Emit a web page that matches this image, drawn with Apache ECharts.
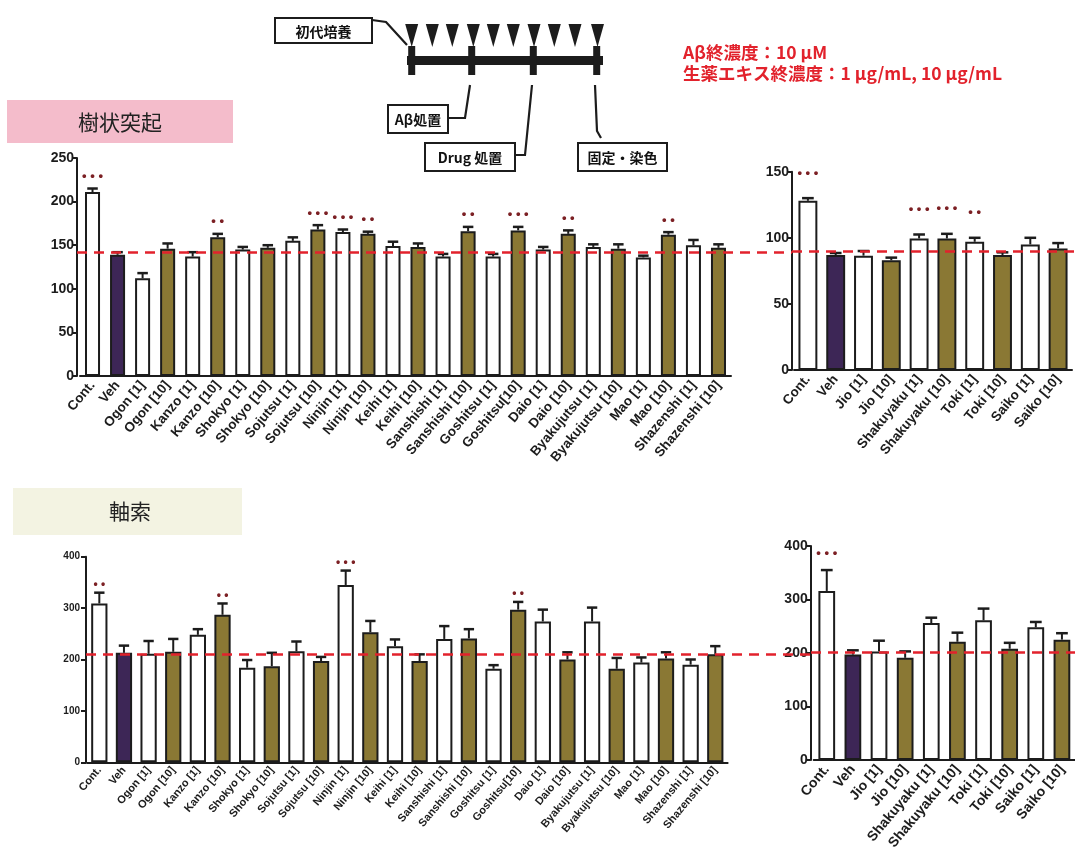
<!DOCTYPE html>
<html>
<head>
<meta charset="utf-8">
<script src="https://cdn.jsdelivr.net/npm/echarts@6/dist/echarts.min.js"></script>
<style>
  html, body { margin: 0; padding: 0; background: #fff; }
  #main { width: 1075px; height: 863px; }
</style>
</head>
<body>
<div id="main"></div>
<script>
// ---- Categories ----
const herbCats = ['Cont.', 'Veh', 'Ogon [1]', 'Ogon [10]', 'Kanzo [1]', 'Kanzo [10]',
  'Shokyo [1]', 'Shokyo [10]', 'Sojutsu [1]', 'Sojutsu [10]', 'Ninjin [1]', 'Ninjin [10]',
  'Keihi [1]', 'Keihi [10]', 'Sanshishi [1]', 'Sanshishi [10]', 'Goshitsu [1]', 'Goshitsu[10]',
  'Daio [1]', 'Daio [10]', 'Byakujutsu [1]', 'Byakujutsu [10]', 'Mao [1]', 'Mao [10]',
  'Shazenshi [1]', 'Shazenshi [10]'];
const extraCats = ['Cont.', 'Veh', 'Jio [1]', 'Jio [10]', 'Shakuyaku [1]', 'Shakuyaku [10]',
  'Toki [1]', 'Toki [10]', 'Saiko [1]', 'Saiko [10]'];

// ---- 樹状突起 (dendrites) ----
const dendriteHerb    = [211, 139, 112, 146, 137, 159, 145, 147, 155, 168, 165, 163, 149,
                         148, 137, 166, 137, 167, 145, 163, 148, 146, 136, 162, 150, 147];
const dendriteHerbErr = [4, 3, 6, 6, 5, 4, 3, 3, 4, 5, 3, 2.5, 5, 4, 3, 5, 3, 4, 3, 4, 3, 5, 2, 3, 6, 4];
const dendriteHerbSig = ['***', '', '', '', '', '**', '', '', '', '***', '***', '**', '',
                         '', '', '**', '', '***', '', '**', '', '', '', '**', '', ''];
const dendriteExtra    = [128, 87, 86.5, 83, 99.5, 99.5, 97, 87, 95, 92];
const dendriteExtraErr = [2, 1.5, 3.5, 2, 3, 3.5, 3, 2, 5, 4];
const dendriteExtraSig = ['***', '', '', '', '***', '***', '**', '', '', ''];
const dendriteRef = [142, 89.5];

// ---- 軸索 (axons) ----
const axonHerb    = [309, 213, 211, 215, 248, 287, 184, 187, 216, 197, 345, 253, 226,
                     197, 240, 241, 182, 297, 274, 200, 274, 182, 194, 202, 190, 210];
const axonHerbErr = [21, 14, 25, 25, 11, 22, 15, 26, 19, 8, 28, 22, 13,
                     13, 25, 18, 7, 15, 23, 14, 27, 21, 10, 12, 10, 16];
const axonHerbSig = ['**', '', '', '', '', '**', '', '', '', '', '***', '', '',
                     '', '', '', '', '**', '', '', '', '', '', '', '', ''];
const axonExtra    = [316, 197, 203, 191, 256, 221, 261, 208, 248, 225];
const axonExtraErr = [39, 8, 20, 12, 10, 17, 22, 11, 10, 12];
const axonExtraSig = ['***', '', '', '', '', '', '', '', '', ''];
const axonRef = [211, 201];

// ---- Axis tick ranges ----
const dendriteHerbTicks  = { min: 0, max: 250, interval: 50 };
const dendriteExtraTicks = { min: 0, max: 150, interval: 50 };
const axonHerbTicks      = { min: 0, max: 400, interval: 100 };
const axonExtraTicks     = { min: 0, max: 400, interval: 100 };

// ---- Styling ----
const INK = '#1c1c1c';
const WHITE = '#ffffff';
const PURPLE = '#3d2656';
const OLIVE = '#8a7834';
const RED = '#e2222c';
const SIG = '#7c2024';
const FONT = '"Liberation Sans", Arial, sans-serif';
const JP = '"Noto Sans CJK JP", "Liberation Sans", sans-serif';

function fillFor(i) {
  if (i === 1) return PURPLE;
  return i % 2 === 1 ? OLIVE : WHITE;
}
function dots(sig) {
  return sig.split('').map(() => '•').join(' ');
}

const panels = [
  { cats: herbCats, vals: dendriteHerb, errs: dendriteHerbErr, sigs: dendriteHerbSig, ticks: dendriteHerbTicks,
    ref: dendriteRef[0], refFrom: 77, refTo: 792,
    grid: { left: 80, top: 158, width: 651, height: 218 }, yOffset: 3,
    barWidth: '60%', cap: 0.42, sigGap: 12, sigSize: 13,
    xFont: 13.5, yFont: 14, xMargin: 7, yMargin: 3 },
  { cats: extraCats, vals: dendriteExtra, errs: dendriteExtraErr, sigs: dendriteExtraSig, ticks: dendriteExtraTicks,
    ref: dendriteRef[1], refFrom: 792, refTo: 1075,
    grid: { left: 794, top: 171.7, width: 278, height: 198.3 }, yOffset: 2,
    barWidth: '68%', cap: 0.42, sigGap: 25, sigSize: 13,
    xFont: 13.5, yFont: 14, xMargin: 7, yMargin: 3 },
  { cats: herbCats, vals: axonHerb, errs: axonHerbErr, sigs: axonHerbSig, ticks: axonHerbTicks,
    ref: axonRef[0], refFrom: 86, refTo: 811,
    grid: { left: 87, top: 556.7, width: 640.6, height: 205.6 }, yOffset: 1,
    barWidth: '66%', cap: 0.42, sigGap: 8, sigSize: 12,
    xFont: 11, yFont: 10, xMargin: 6, yMargin: 6 },
  { cats: extraCats, vals: axonExtra, errs: axonExtraErr, sigs: axonExtraSig, ticks: axonExtraTicks,
    ref: axonRef[1], refFrom: 811, refTo: 1075,
    grid: { left: 813.7, top: 546, width: 271.6, height: 214 }, yOffset: 3,
    barWidth: '64%', cap: 0.45, sigGap: 17, sigSize: 13,
    xFont: 14, yFont: 14, xMargin: 7, yMargin: 3 }
];

const grids = [], xAxes = [], yAxes = [], series = [];

panels.forEach((p, g) => {
  grids.push(Object.assign({ containLabel: false }, p.grid));
  xAxes.push({
    type: 'category', gridIndex: g, data: p.cats,
    axisLine: { lineStyle: { color: INK, width: 2 } },
    axisTick: { alignWithLabel: true, length: 5, lineStyle: { color: INK, width: 2 } },
    axisLabel: { rotate: 50, interval: 0, margin: p.xMargin, fontSize: p.xFont,
      fontWeight: 'bold', color: INK, fontFamily: FONT }
  });
  yAxes.push({
    type: 'value', gridIndex: g, min: p.ticks.min, max: p.ticks.max, interval: p.ticks.interval,
    offset: p.yOffset,
    axisLine: { show: true, lineStyle: { color: INK, width: 2 } },
    axisTick: { show: true, length: 5, lineStyle: { color: INK, width: 2 } },
    splitLine: { show: false },
    axisLabel: { margin: p.yMargin, fontSize: p.yFont, fontWeight: 'bold', color: INK, fontFamily: FONT }
  });
  series.push({
    type: 'bar', xAxisIndex: g, yAxisIndex: g, data: p.vals, barWidth: p.barWidth,
    silent: true, z: 2,
    itemStyle: {
      color: (d) => fillFor(d.dataIndex),
      borderColor: INK, borderWidth: 2
    },
    markLine: {
      silent: true, symbol: 'none', animation: false,
      label: { show: false },
      lineStyle: { color: RED, type: [10, 7], width: 2.5 },
      data: [[{ yAxis: p.ref, x: p.refFrom }, { yAxis: p.ref, x: p.refTo }]]
    }
  });
  series.push({
    type: 'custom', xAxisIndex: g, yAxisIndex: g, z: 4, silent: true,
    data: p.vals.map((v, i) => [i, v, v + p.errs[i]]),
    encode: { x: 0, y: [1, 2] },
    renderItem: (params, api) => {
      const i = api.value(0);
      const base = api.coord([i, api.value(1)]);
      const top = api.coord([i, api.value(2)]);
      const half = api.size([1, 0])[0] * p.cap / 2;
      const kids = [
        { type: 'line', shape: { x1: base[0], y1: base[1], x2: top[0], y2: top[1] },
          style: { stroke: INK, lineWidth: 2 } },
        { type: 'line', shape: { x1: top[0] - half, y1: top[1], x2: top[0] + half, y2: top[1] },
          style: { stroke: INK, lineWidth: 2.5 } }
      ];
      const sig = p.sigs[params.dataIndex];
      if (sig) {
        kids.push({ type: 'text', style: {
          text: dots(sig), x: top[0], y: top[1] - p.sigGap, align: 'center', verticalAlign: 'middle',
          fill: SIG, font: 'bold ' + p.sigSize + 'px ' + FONT } });
      }
      return { type: 'group', children: kids };
    }
  });
});

// ---- Protocol schematic, section headers, concentrations ----
const graphics = [];
// section headers
graphics.push({ type: 'rect', shape: { x: 7, y: 100, width: 226, height: 43 }, style: { fill: '#f4bccb' }, z: 1 });
graphics.push({ type: 'text', style: { text: '樹状突起', x: 120, y: 122, align: 'center', verticalAlign: 'middle',
  font: '400 21px ' + JP, fill: '#222' }, z: 2 });
graphics.push({ type: 'rect', shape: { x: 13, y: 488, width: 229, height: 47 }, style: { fill: '#f3f3e2' }, z: 1 });
graphics.push({ type: 'text', style: { text: '軸索', x: 130, y: 511, align: 'center', verticalAlign: 'middle',
  font: '400 21px ' + JP, fill: '#222' }, z: 2 });

// timeline
graphics.push({ type: 'rect', shape: { x: 407, y: 56, width: 196, height: 9 }, style: { fill: INK }, z: 2 });
[411.7, 471.7, 533.3, 596.7].forEach(x => {
  graphics.push({ type: 'rect', shape: { x: x - 3.5, y: 46, width: 7, height: 29 }, style: { fill: INK }, z: 2 });
});
[411.7, 432.3, 452.3, 473.3, 493.3, 513.3, 534, 554.3, 575, 597.5].forEach(x => {
  graphics.push({ type: 'polygon', shape: { points: [[x - 6.5, 24], [x + 6.5, 24], [x, 47]] }, style: { fill: INK }, z: 2 });
});
// labelled boxes
function box(x, y, w, h, text) {
  graphics.push({ type: 'rect', shape: { x: x, y: y, width: w, height: h },
    style: { fill: '#fff', stroke: INK, lineWidth: 2 }, z: 2 });
  graphics.push({ type: 'text', style: { text: text, x: x + w / 2, y: y + h / 2 + 1, align: 'center',
    verticalAlign: 'middle', font: 'bold 14px ' + JP, fill: '#111' }, z: 3 });
}
box(275, 18, 97, 25, '初代培養');
box(388, 105, 60, 28, 'Aβ処置');
box(425, 143, 90, 28, 'Drug 処置');
box(578, 143, 89, 28, '固定・染色');
function wire(points) {
  graphics.push({ type: 'polyline', shape: { points: points },
    style: { stroke: INK, lineWidth: 2.2, fill: null }, z: 2 });
}
wire([[372, 20], [386, 22], [407, 45]]);
wire([[448, 118], [465, 118], [470, 85]]);
wire([[515, 155], [525, 155], [532, 85]]);
wire([[601, 138], [597, 131], [595, 85]]);

// concentrations
graphics.push({ type: 'text', style: { text: 'Aβ終濃度：10 μM', x: 683, y: 52, verticalAlign: 'middle',
  font: 'bold 17.5px ' + JP, fill: RED }, z: 2 });
graphics.push({ type: 'text', style: { text: '生薬エキス終濃度：1 μg/mL, 10 μg/mL', x: 683, y: 73, verticalAlign: 'middle',
  font: 'bold 17.5px ' + JP, fill: RED }, z: 2 });

const chart = echarts.init(document.getElementById('main'), null, { renderer: 'canvas' });
chart.setOption({
  animation: false,
  backgroundColor: '#fff',
  grid: grids,
  xAxis: xAxes,
  yAxis: yAxes,
  series: series,
  graphic: graphics
});
</script>
</body>
</html>
